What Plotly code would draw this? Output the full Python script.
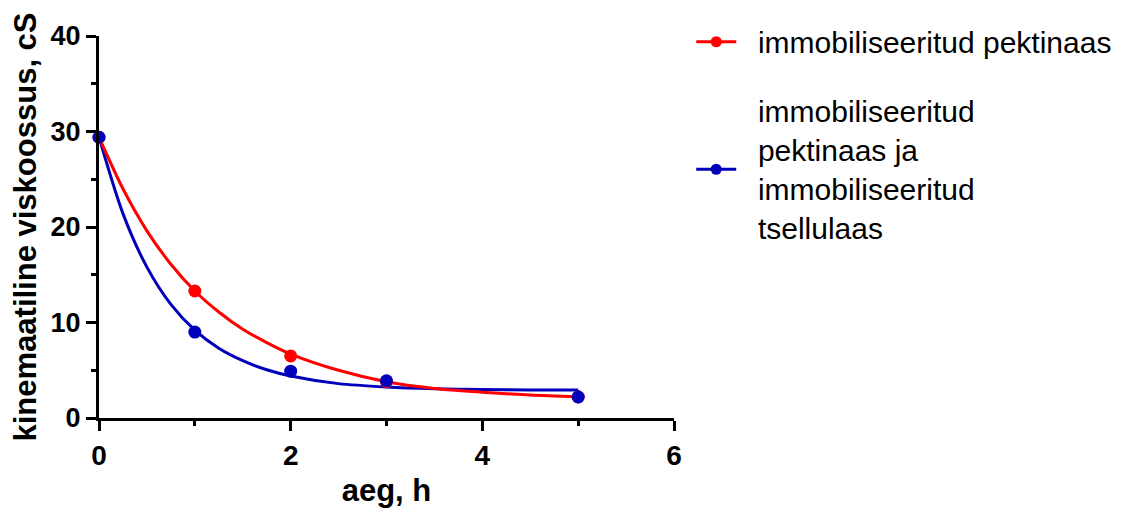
import plotly.graph_objects as go

# Measured data points
time_h = [0, 1, 2, 3, 5]
red_vals = [29.4, 13.3, 6.5, 3.8, 2.2]
blue_vals = [29.4, 9.0, 4.9, 3.9, 2.2]

# Fitted curves at sample times
curve_t = [0, 0.25, 0.5, 0.75, 1, 1.25, 1.5, 1.75, 2, 2.5, 3, 3.5, 4, 4.5, 5]
red_curve = [29.4, 24.0, 19.6, 16.1, 13.3, 11.1, 9.3, 7.9, 6.7, 5.0, 3.8, 3.1, 2.7, 2.4, 2.2]
blue_curve = [29.4, 21.4, 15.8, 11.9, 9.2, 7.3, 6.0, 5.05, 4.4, 3.6, 3.25, 3.07, 2.98, 2.94, 2.92]
blue_end_t = [5, 5]
blue_end = [2.92, 2.2]

NB = "\u00a0\u00a0"
red_name = NB + "immobiliseeritud pektinaas"
blue_lines = ["immobiliseeritud", "pektinaas ja", "immobiliseeritud", "tsellulaas"]
blue_name = "<br>".join(NB + s for s in blue_lines)

RED = "#FF0000"
BLUE = "#0000BB"
FONT = "Liberation Sans, Arial, sans-serif"

fig = go.Figure()
fig.add_trace(go.Scatter(x=curve_t, y=blue_curve, mode="lines",
                         line=dict(color=BLUE, width=3, shape="spline", smoothing=0.8),
                         showlegend=False, cliponaxis=False))
fig.add_trace(go.Scatter(x=blue_end_t, y=blue_end, mode="lines", line=dict(color=BLUE, width=3),
                         showlegend=False, cliponaxis=False))
fig.add_trace(go.Scatter(x=curve_t, y=red_curve, mode="lines",
                         line=dict(color=RED, width=3, shape="spline", smoothing=0.8),
                         showlegend=False, cliponaxis=False))
fig.add_trace(go.Scatter(x=time_h, y=red_vals, mode="markers", marker=dict(color=RED, size=13),
                         showlegend=False, cliponaxis=False))
fig.add_trace(go.Scatter(x=time_h, y=blue_vals, mode="markers", marker=dict(color=BLUE, size=13),
                         showlegend=False, cliponaxis=False))
# legend entries
fig.add_trace(go.Scatter(x=[None], y=[None], mode="lines+markers", name=red_name, legendgroup="a",
                         line=dict(color=RED, width=3), marker=dict(color=RED, size=11)))
fig.add_trace(go.Scatter(x=[None], y=[None], mode="lines+markers", name=blue_name, legendgroup="b",
                         line=dict(color=BLUE, width=3), marker=dict(color=BLUE, size=11)))

axis_common = dict(
    showline=True, linewidth=3, linecolor="black", ticks="outside", ticklen=10, tickwidth=3,
    tickcolor="black", showgrid=False, zeroline=False,
)

fig.update_xaxes(range=[0, 6], dtick=2, tick0=0,
                 tickfont=dict(family=FONT, size=28, color="black", weight="bold"),
                 minor=dict(dtick=1, ticklen=5, tickwidth=3, tickcolor="black", ticks="outside", showgrid=False),
                 title=dict(text="aeg, h", font=dict(family=FONT, size=31, color="black", weight="bold"), standoff=11),
                 **axis_common)
fig.update_yaxes(range=[0, 40], dtick=10, tick0=0,
                 tickfont=dict(family=FONT, size=27, color="black", weight="bold"),
                 minor=dict(dtick=5, ticklen=5, tickwidth=3, tickcolor="black", ticks="outside", showgrid=False),
                 title=dict(text="kinemaatiline viskoossus, cS", font=dict(family=FONT, size=31, color="black", weight="bold"), standoff=16),
                 **axis_common)

fig.update_layout(
    width=1122, height=500,
    margin=dict(l=91, r=456, t=28, b=90, autoexpand=False),
    plot_bgcolor="white", paper_bgcolor="white",
    legend=dict(x=1.03, xanchor="left", y=1.053, yanchor="top",
                font=dict(family=FONT, size=30, color="black"),
                tracegroupgap=27, valign="middle", itemwidth=40, bgcolor="rgba(0,0,0,0)"),
    showlegend=True,
)

fig.write_html("out.html")
